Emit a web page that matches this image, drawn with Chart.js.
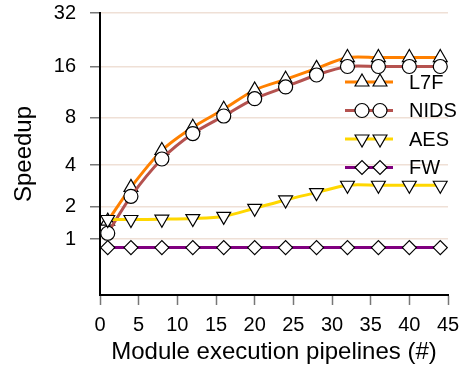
<!DOCTYPE html>
<html>
<head>
<meta charset="utf-8">
<script src="https://cdn.jsdelivr.net/npm/chart.js@4/dist/chart.umd.min.js"></script>
<style>
  body { margin: 0; background: #fff; }
  canvas { display: block; }
</style>
</head>
<body>
<canvas id="speedup-chart" width="459" height="371"></canvas>
<script>
// pipelines used on the x axis
const pipelines = [1, 4, 8, 12, 16, 20, 24, 28, 32, 36, 40, 44];

// speedup per application
const l7f = [1.5, 2.8, 5.0, 7.0, 9.0, 11.7, 13.5, 15.6, 18, 18, 18, 18];
const nids = [1.15, 2.4, 4.4, 6.4, 8.2, 10.4, 12.2, 14.3, 16, 16, 16, 16];
const aes = [1.55, 1.55, 1.56, 1.58, 1.65, 1.93, 2.25, 2.56, 2.9, 2.9, 2.9, 2.9];
const fw = [0.8, 0.8, 0.8, 0.8, 0.8, 0.8, 0.8, 0.8, 0.8, 0.8, 0.8, 0.8];

const yTicks = [1, 2, 4, 8, 16, 32];
const yMax = 32;

// the y axis is log2(1 + speedup)
const tf = v => Math.log2(1 + v);
const points = vals => vals.map((v, i) => ({ x: pipelines[i], y: tf(v) }));

const FONT = 'Liberation Sans, Arial, Helvetica, sans-serif';

// legend inside the plot, two markers per line sample
const lineLegend = {
  id: 'lineLegend',
  afterDatasetsDraw(chart) {
    const ctx = chart.ctx;
    chart.data.datasets.forEach((ds, i) => {
      const y = 82 + i * 28.5;
      ctx.save();
      ctx.strokeStyle = ds.borderColor;
      ctx.lineWidth = 3;
      ctx.beginPath();
      ctx.moveTo(345, y);
      ctx.lineTo(393, y);
      ctx.stroke();
      ctx.fillStyle = '#fff';
      ctx.strokeStyle = '#000';
      ctx.lineWidth = 1.2;
      [362, 380].forEach(x => {
        Chart.helpers.drawPoint(ctx, {
          pointStyle: ds.pointStyle,
          radius: ds.pointRadius,
          rotation: ds.pointRotation || 0,
          borderWidth: 1.2
        }, x, y);
      });
      ctx.fillStyle = '#000';
      ctx.font = '20px ' + FONT;
      ctx.textAlign = 'left';
      ctx.textBaseline = 'middle';
      ctx.fillText(ds.label, 409, y + 1);
      ctx.restore();
    });
  }
};

const series = (label, vals, color, style, radius, rotation, order) => ({
  label: label,
  data: points(vals),
  borderColor: color,
  borderWidth: 3,
  pointStyle: style,
  pointRadius: radius,
  pointRotation: rotation,
  pointBackgroundColor: '#fff',
  pointBorderColor: '#000',
  pointBorderWidth: 1.2,
  tension: 0.3,
  order: order
});

new Chart(document.getElementById('speedup-chart'), {
  type: 'line',
  data: {
    datasets: [
      series('L7F', l7f, '#ff8000', 'triangle', 8, 0, 4),
      series('NIDS', nids, '#b5524f', 'circle', 7, 0, 3),
      series('AES', aes, '#ffd700', 'triangle', 8, 180, 2),
      series('FW', fw, '#800080', 'rectRot', 7, 0, 1)
    ]
  },
  options: {
    responsive: false,
    animation: false,
    devicePixelRatio: 1,
    layout: { padding: { top: 13, right: 11, left: 0, bottom: 0 } },
    plugins: {
      legend: { display: false },
      tooltip: { enabled: false }
    },
    scales: {
      x: {
        type: 'linear',
        min: 0,
        max: 45,
        afterFit: s => { s.height = 76; s.paddingLeft = 0; s.paddingRight = 0; },
        border: { color: '#000', width: 2 },
        grid: { drawOnChartArea: false, tickLength: 10, tickColor: '#777', tickWidth: 1.5 },
        ticks: { stepSize: 5, padding: 8, color: '#000', font: { family: FONT, size: 20 } },
        title: {
          display: true,
          text: 'Module execution pipelines (#)',
          color: '#000',
          padding: { top: 0, bottom: 4 },
          font: { family: FONT, size: 24 }
        }
      },
      y: {
        type: 'linear',
        min: 0,
        max: tf(yMax),
        afterFit: s => { s.width = 100; s.paddingTop = 0; s.paddingBottom = 0; },
        afterBuildTicks: s => { s.ticks = yTicks.map(v => ({ value: tf(v) })); },
        border: { color: '#000', width: 2 },
        grid: { color: '#efe0d6', lineWidth: 1.5, tickLength: 10, tickColor: '#777', tickWidth: 1.5 },
        ticks: {
          padding: 14,
          color: '#000',
          font: { family: FONT, size: 20 },
          callback: (v, i) => yTicks[i]
        },
        title: {
          display: true,
          text: 'Speedup',
          color: '#000',
          padding: { top: 10, bottom: 0 },
          font: { family: FONT, size: 24 }
        }
      }
    }
  },
  plugins: [lineLegend]
});
</script>
</body>
</html>
